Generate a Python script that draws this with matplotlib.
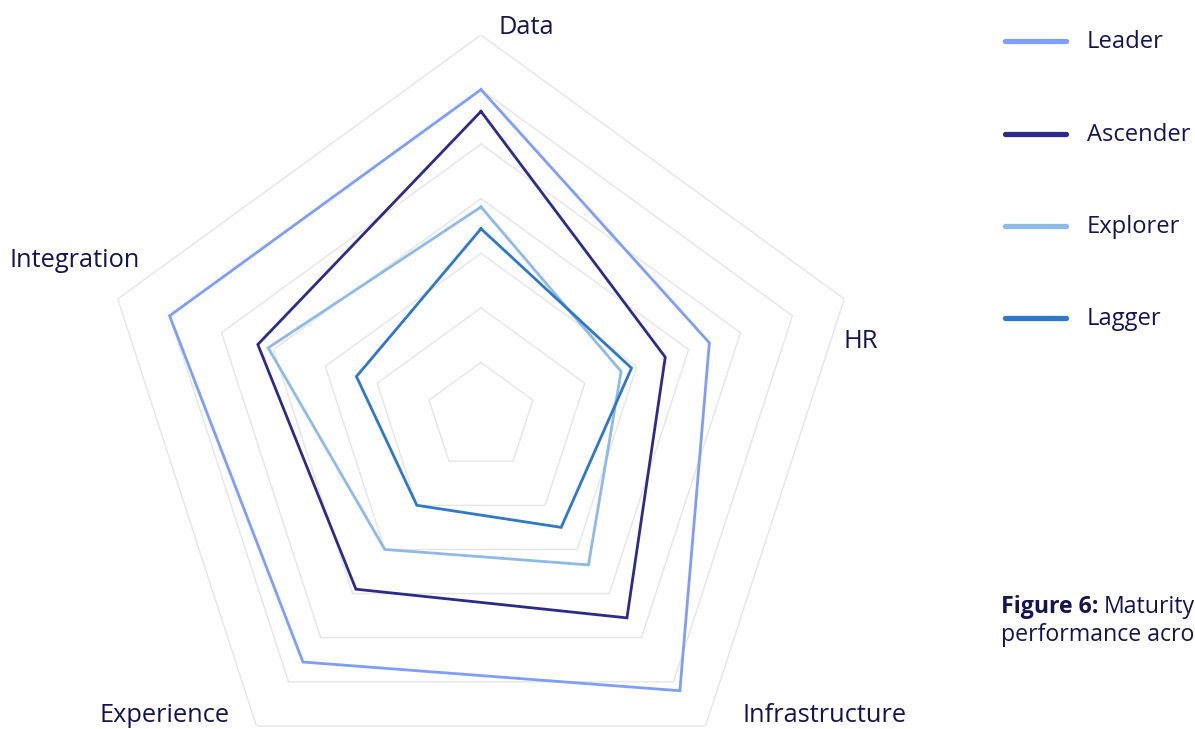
import numpy as np
import matplotlib
matplotlib.use("Agg")
import matplotlib.pyplot as plt

categories = ["Data", "HR", "Infrastructure", "Experience", "Integration"]
series_names = ["Leader", "Ascender", "Explorer", "Lagger"]
leader = [6.0, 4.4, 6.2, 5.55, 6.0]
ascender = [5.6, 3.55, 4.55, 3.9, 4.3]
explorer = [3.85, 2.7, 3.35, 3.0, 4.1]
lagger = [3.45, 2.9, 2.5, 2.0, 2.4]
ring_levels = [1, 2, 3, 4, 5, 6, 7]

colors = ["#7f9ef5", "#2e2b87", "#8fbae8", "#2e78c7"]
text_color = "#16144f"
grid_color = "#e6e6e6"
font = ["Open Sans", "DejaVu Sans"]

W, H = 1195, 729
fig = plt.figure(figsize=(W / 100, H / 100), dpi=100)
renderer = fig.canvas.get_renderer()


def fit_size(text, target_px, weight="normal"):
    t = fig.text(0, 0, text, fontsize=10, family=font, fontweight=weight)
    w = t.get_window_extent(renderer).width
    t.remove()
    return 10 * target_px / w


cx, cy, R = 481, 417, 382
ax = fig.add_axes([(cx - R) / W, (H - cy - R) / H, 2 * R / W, 2 * R / H], projection="polar")
ax.set_theta_offset(np.pi / 2)
ax.set_theta_direction(-1)
ax.set_ylim(0, 7)
ax.grid(False)
ax.spines["polar"].set_visible(False)
ax.set_xticks([])
ax.set_yticks([])
ax.patch.set_alpha(0)

n = len(categories)
angles = np.linspace(0, 2 * np.pi, n, endpoint=False)
closed = np.append(angles, angles[0])

for lv in ring_levels:
    ax.plot(closed, [lv] * (n + 1), color=grid_color, lw=1.0, zorder=1)

all_series = [leader, ascender, explorer, lagger]
for name, vals, col in zip(series_names, all_series, colors):
    v = list(vals) + [vals[0]]
    ax.plot(closed, v, color=col, lw=2.0, zorder=3, solid_joinstyle="miter", label=name)

# category labels (pixel positions)
lab_fs = fit_size("Integration", 131)
label_pos = {"Data": (526, 28), "HR": (861, 342),
             "Infrastructure": (825, 715), "Experience": (165, 715),
             "Integration": (75, 260)}
for c in categories:
    x, y = label_pos[c]
    fig.text(x / W, 1 - y / H, c, ha="center", va="center", fontsize=lab_fs,
             color=text_color, family=font)

# legend
leg_fs = fit_size("Ascender", 103)
leg_y = [41, 134, 226, 318]
for name, col, y in zip(series_names, colors, leg_y):
    fig.add_artist(plt.Line2D([1005 / W, 1066 / W], [1 - y / H, 1 - y / H], color=col, lw=3.8,
                              solid_capstyle="round", transform=fig.transFigure))
    fig.text(1087 / W, 1 - (y + 1) / H, name, ha="left", va="center", fontsize=leg_fs,
             color=text_color, family=font)

# caption
cap_fs = fit_size("performance acro", 193)
t1 = fig.text(1001 / W, 1 - 607 / H, "Figure 6:", ha="left", va="center", fontsize=cap_fs,
              color=text_color, family=font, fontweight="bold")
x_end = t1.get_window_extent(renderer).x1
fig.text((x_end + 5) / W, 1 - 607 / H, "Maturity", ha="left", va="center", fontsize=cap_fs,
         color=text_color, family=font)
fig.text(1001 / W, 1 - 635 / H, "performance acro", ha="left", va="center",
         fontsize=cap_fs, color=text_color, family=font)

fig.savefig("out.png", dpi=100)
